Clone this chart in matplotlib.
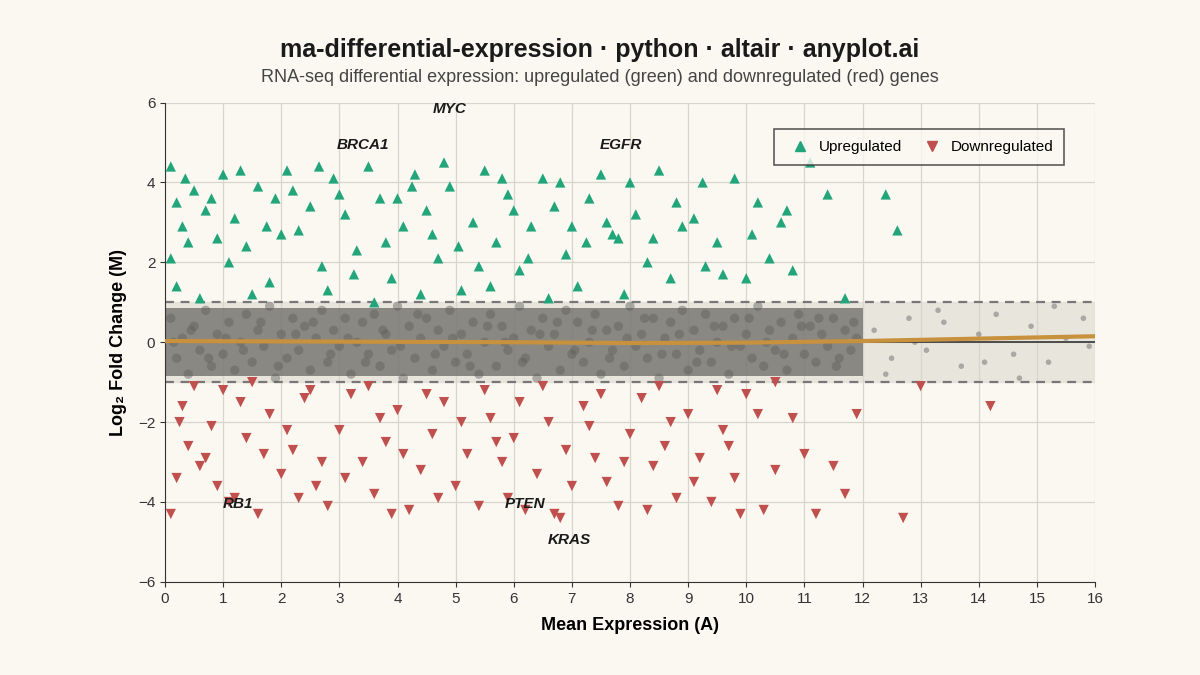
import matplotlib.pyplot as plt
from matplotlib.lines import Line2D

plt.rcParams['font.family'] = ['Liberation Sans', 'DejaVu Sans']

BG = '#FAF8F1'
GREEN = '#22A57A'
RED = '#C0504D'

# significant genes (A, M)
up_pts = [
    (0.1, 4.4), (0.2, 3.5), (0.3, 2.9), (0.1, 2.1), (0.5, 3.8), (0.7, 3.3), (0.9, 2.6), (0.2, 1.4),
    (1.0, 4.2), (1.2, 3.1), (1.4, 2.4), (1.6, 3.9), (1.8, 1.5), (1.9, 3.6), (2.1, 4.3), (2.3, 2.8),
    (2.5, 3.4), (2.7, 1.9), (2.9, 4.1), (3.1, 3.2), (3.3, 2.3), (3.5, 4.4), (3.7, 3.6), (3.9, 1.6),
    (4.1, 2.9), (4.3, 4.2), (4.5, 3.3), (4.7, 2.1), (4.9, 3.9), (5.1, 1.3), (5.3, 3.0), (5.5, 4.3),
    (5.7, 2.5), (5.9, 3.7), (6.1, 1.8), (6.3, 2.9), (6.5, 4.1), (6.7, 3.4), (6.9, 2.2), (7.1, 1.4),
    (7.3, 3.6), (7.5, 4.2), (7.7, 2.7), (7.9, 1.2), (8.1, 3.2), (8.3, 2.0), (8.5, 4.3), (8.7, 1.6),
    (8.9, 2.9), (9.1, 3.1), (9.3, 1.9), (9.5, 2.5), (9.8, 4.1), (10.0, 1.6), (10.2, 3.5), (10.4, 2.1),
    (10.6, 3.0), (10.8, 1.8), (11.1, 4.5), (11.4, 3.7), (11.7, 1.1), (12.4, 3.7), (12.6, 2.8),
    (0.6, 1.1), (1.5, 1.2), (2.8, 1.3), (3.6, 1.0), (4.4, 1.2), (5.6, 1.4), (6.6, 1.1), (7.8, 2.6),
    (0.4, 2.5), (1.1, 2.0), (2.0, 2.7), (3.0, 3.7), (4.0, 3.6), (4.8, 4.5), (6.0, 3.3), (7.0, 2.9),
    (0.35, 4.1), (0.8, 3.6), (1.3, 4.3), (1.75, 2.9), (2.2, 3.8), (2.65, 4.4), (3.25, 1.7), (3.8, 2.5),
    (4.25, 3.9), (4.6, 2.7), (5.05, 2.4), (5.4, 1.9), (5.8, 4.1), (6.25, 2.1), (6.8, 4.0), (7.25, 2.5),
    (7.6, 3.0), (8.0, 4.0), (8.4, 2.6), (8.8, 3.5), (9.25, 4.0), (9.6, 1.7), (10.1, 2.7), (10.7, 3.3),
]
down_pts = [
    (0.1, -4.3), (0.2, -3.4), (0.4, -2.6), (0.3, -1.6), (0.6, -3.1), (0.8, -2.1), (1.0, -1.2), (1.2, -3.9),
    (1.4, -2.4), (1.6, -4.3), (1.8, -1.8), (2.0, -3.3), (2.2, -2.7), (2.4, -1.4), (2.6, -3.6), (2.8, -4.1),
    (3.0, -2.2), (3.2, -1.3), (3.4, -3.0), (3.6, -3.8), (3.8, -2.5), (4.0, -1.7), (4.2, -4.2), (4.4, -3.2),
    (4.6, -2.3), (4.8, -1.5), (5.0, -3.6), (5.2, -2.8), (5.4, -4.1), (5.6, -1.9), (5.8, -3.0), (6.0, -2.4),
    (6.2, -4.2), (6.4, -3.3), (6.6, -2.0), (6.8, -4.4), (7.0, -3.6), (7.2, -1.6), (7.4, -2.9), (7.6, -3.5),
    (7.8, -4.1), (8.0, -2.3), (8.2, -1.4), (8.4, -3.1), (8.6, -2.6), (8.8, -3.9), (9.0, -1.8), (9.2, -2.9),
    (9.4, -4.0), (9.6, -2.2), (9.8, -3.4), (10.0, -1.3), (10.3, -4.2), (10.5, -3.2), (10.8, -1.9),
    (11.0, -2.8), (11.2, -4.3), (11.5, -3.1), (11.7, -3.8), (11.9, -1.8), (12.7, -4.4), (13.0, -1.1),
    (14.2, -1.6), (0.5, -1.1), (1.5, -1.0), (2.5, -1.2), (3.5, -1.1), (4.5, -1.3), (5.5, -1.2),
    (6.5, -1.1), (7.5, -1.3), (8.5, -1.1), (9.5, -1.2), (10.5, -1.0), (1.1, -4.0), (2.3, -3.9),
    (3.9, -4.3), (5.9, -3.9), (6.7, -4.3), (8.3, -4.2), (9.9, -4.3), (0.7, -2.9),
    (0.25, -2.0), (0.9, -3.6), (1.3, -1.5), (1.7, -2.8), (2.1, -2.2), (2.7, -3.0), (3.1, -3.4),
    (3.7, -1.9), (4.1, -2.8), (4.7, -3.9), (5.1, -2.0), (5.7, -2.5), (6.1, -1.5), (6.9, -2.7),
    (7.3, -2.1), (7.9, -3.0), (8.7, -2.0), (9.1, -3.5), (9.7, -2.6), (10.2, -1.8),
]
# non-significant gene cloud (A, M), representative sample
ns_pts = [
    (0.1, 0.6), (0.2, -0.4), (0.3, 0.1), (0.4, -0.8), (0.5, 0.4), (0.6, -0.2), (0.7, 0.8), (0.8, -0.6),
    (0.9, 0.2), (1.0, -0.3), (1.1, 0.5), (1.2, -0.7), (1.3, 0.0), (1.4, 0.7), (1.5, -0.5), (1.6, 0.3),
    (1.7, -0.1), (1.8, 0.9), (1.9, -0.9), (2.0, 0.2), (2.1, -0.4), (2.2, 0.6), (2.3, -0.2), (2.4, 0.4),
    (2.5, -0.7), (2.6, 0.1), (2.7, 0.8), (2.8, -0.5), (2.9, 0.3), (3.0, -0.1), (3.1, 0.6), (3.2, -0.8),
    (3.3, 0.0), (3.4, 0.5), (3.5, -0.3), (3.6, 0.7), (3.7, -0.6), (3.8, 0.2), (3.9, -0.2), (4.0, 0.9),
    (4.1, -0.9), (4.2, 0.4), (4.3, -0.4), (4.4, 0.1), (4.5, 0.6), (4.6, -0.7), (4.7, 0.3), (4.8, -0.1),
    (4.9, 0.8), (5.0, -0.5), (5.1, 0.2), (5.2, -0.3), (5.3, 0.5), (5.4, -0.8), (5.5, 0.0), (5.6, 0.7),
    (5.7, -0.6), (5.8, 0.4), (5.9, -0.2), (6.0, 0.1), (6.1, 0.9), (6.2, -0.4), (6.3, 0.3), (6.4, -0.9),
    (6.5, 0.6), (6.6, -0.1), (6.7, 0.2), (6.8, -0.7), (6.9, 0.8), (7.0, -0.3), (7.1, 0.5), (7.2, -0.5),
    (7.3, 0.0), (7.4, 0.7), (7.5, -0.8), (7.6, 0.3), (7.7, -0.2), (7.8, 0.4), (7.9, -0.6), (8.0, 0.9),
    (8.1, -0.1), (8.2, 0.2), (8.3, -0.4), (8.4, 0.6), (8.5, -0.9), (8.6, 0.1), (8.7, 0.5), (8.8, -0.3),
    (8.9, 0.8), (9.0, -0.7), (9.1, 0.3), (9.2, -0.2), (9.3, 0.7), (9.4, -0.5), (9.5, 0.0), (9.6, 0.4),
    (9.7, -0.8), (9.8, 0.6), (9.9, -0.1), (10.0, 0.2), (10.1, -0.4), (10.2, 0.9), (10.3, -0.6), (10.4, 0.3),
    (10.5, -0.2), (10.6, 0.5), (10.7, -0.7), (10.8, 0.1), (10.9, 0.7), (11.0, -0.3), (11.1, 0.4),
    (11.2, -0.5), (11.3, 0.2), (11.4, -0.1), (11.5, 0.6), (11.6, -0.4), (11.7, 0.3), (11.8, -0.2),
    (11.9, 0.1), (0.15, 0.0), (0.45, 0.3), (0.75, -0.4), (1.05, 0.1), (1.35, -0.2), (1.65, 0.5),
    (1.95, -0.6), (2.25, 0.2), (2.55, 0.5), (2.85, -0.3), (3.15, 0.1), (3.45, -0.5), (3.75, 0.3),
    (4.05, -0.1), (4.35, 0.7), (4.65, -0.3), (4.95, 0.1), (5.25, -0.6), (5.55, 0.4), (5.85, 0.0),
    (6.15, -0.5), (6.45, 0.2), (6.75, 0.5), (7.05, -0.2), (7.35, 0.3), (7.65, -0.4), (7.95, 0.1),
    (8.25, 0.6), (8.55, -0.3), (8.85, 0.2), (9.15, -0.5), (9.45, 0.4), (9.75, -0.1), (10.05, 0.6),
    (10.35, 0.0), (10.65, -0.3), (10.95, 0.4), (11.25, 0.6), (11.55, -0.6), (11.85, 0.5),
    (12.2, 0.3), (12.5, -0.4), (12.8, 0.6), (13.1, -0.2), (13.4, 0.5), (13.7, -0.6), (14.0, 0.2),
    (14.3, 0.7), (14.6, -0.3), (14.9, 0.4), (15.2, -0.5), (15.5, 0.1), (15.8, 0.6), (12.4, -0.8),
    (13.3, 0.8), (14.7, -0.9), (15.3, 0.9), (15.9, -0.1), (12.9, 0.0), (14.1, -0.5),
]
# extent of the dense grey cloud
cloud_a = [0, 12]
cloud_lo = [-0.85, -0.85]
cloud_hi = [0.85, 0.85]
trend_a = [0, 2, 4, 6, 8, 10, 12, 14, 16]
trend_m = [0.03, 0.02, 0.01, 0.0, -0.02, -0.01, 0.03, 0.09, 0.15]
labels = [('MYC', 4.9, 5.85), ('BRCA1', 3.4, 4.95), ('EGFR', 7.85, 4.95),
          ('RB1', 1.25, -4.05), ('PTEN', 6.2, -4.05), ('KRAS', 6.95, -4.95)]

fig = plt.figure(figsize=(12, 6.75), dpi=100, facecolor=BG)
ax = fig.add_axes([0.1375, 0.138, 0.775, 0.71], facecolor=BG)

ax.axhspan(-1, 1, color='#DDD9D0', alpha=0.6, zorder=0)
for y in (-1, 1):
    ax.axhline(y, color='#777777', ls=(0, (4, 3)), lw=1.6, zorder=1)

ax.fill_between(cloud_a, cloud_lo, cloud_hi, color='#6A6964', alpha=0.75,
                linewidth=0, zorder=2)
ns_x = [p[0] for p in ns_pts]
ns_y = [p[1] for p in ns_pts]
ax.scatter(ns_x, ns_y, s=[45 if a < 12 else 16 for a in ns_x], color='#5F5E5A',
           alpha=0.45, edgecolors='none', zorder=2)
ax.axhline(0, color='#333333', lw=1.2, zorder=3)
ax.plot(trend_a, trend_m, color='#C8913D', lw=3, zorder=4)

ax.scatter([p[0] for p in up_pts], [p[1] for p in up_pts], marker='^', s=55,
           color=GREEN, edgecolors='none', zorder=5)
ax.scatter([p[0] for p in down_pts], [p[1] for p in down_pts], marker='v', s=55,
           color=RED, edgecolors='none', zorder=5)

for name, x, y in labels:
    ax.text(x, y, name, fontsize=11, fontweight='bold', style='italic',
            color='#1a1a1a', ha='center', va='center', zorder=6)

ax.set_xlim(0, 16)
ax.set_ylim(-6, 6)
ax.set_xticks(range(0, 17))
ax.set_yticks([-6, -4, -2, 0, 2, 4, 6])
ax.set_yticklabels(['\u22126', '\u22124', '\u22122', '0', '2', '4', '6'])
ax.grid(color='#D8D5CD', lw=0.9, zorder=0)
ax.set_axisbelow(True)
for s in ('top', 'right'):
    ax.spines[s].set_visible(False)
for s in ('left', 'bottom'):
    ax.spines[s].set_color('#333333')
ax.tick_params(labelsize=11, colors='#333333')
ax.set_xlabel('Mean Expression (A)', fontsize=13, fontweight='bold', labelpad=8)
ax.set_ylabel('Log\u2082 Fold Change (M)', fontsize=13, fontweight='bold', labelpad=8)

handles = [Line2D([], [], marker='^', ls='none', color=GREEN, markersize=7, label='Upregulated'),
           Line2D([], [], marker='v', ls='none', color=RED, markersize=7, label='Downregulated')]
leg = ax.legend(handles=handles, loc='upper right', bbox_to_anchor=(0.975, 0.96), ncol=2,
                fontsize=11, frameon=True, fancybox=False, edgecolor='#333333',
                facecolor=BG, handletextpad=0.2, columnspacing=1.0, borderpad=0.7)
leg.get_frame().set_linewidth(1.2)

fig.text(0.5, 0.915, 'ma-differential-expression \u00b7 python \u00b7 altair \u00b7 anyplot.ai',
         ha='center', fontsize=18, fontweight='bold', color='#1a1a1a')
fig.text(0.5, 0.879, 'RNA-seq differential expression: upregulated (green) and downregulated (red) genes',
         ha='center', fontsize=13, color='#444444')

fig.savefig('out.png', dpi=100, facecolor=BG)
